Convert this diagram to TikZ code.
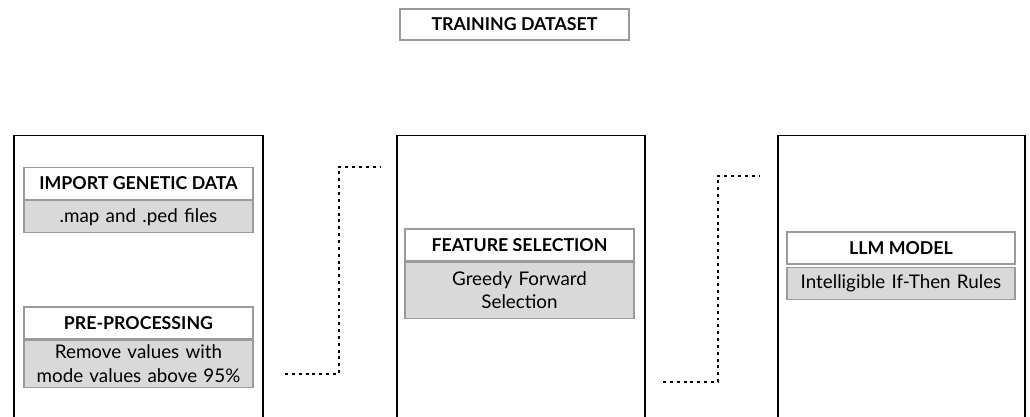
\documentclass[tikz,border=0pt]{standalone}
\usepackage{fontspec}
\setmainfont{Lato}
\usepackage{xcolor}
\usetikzlibrary{positioning}

\definecolor{boxgray}{HTML}{D9D9D9}
\definecolor{edgegray}{HTML}{9A9A9A}

\tikzset{
  stage/.style={draw=black, line width=1.1pt, anchor=north west, minimum height=6cm, inner sep=0pt},
  head/.style={draw=edgegray, line width=0.6pt, fill=white, minimum width=4.58cm, minimum height=0.65cm,
    inner sep=0pt, font=\fontsize{10.1}{12}\selectfont\bfseries},
  body/.style={draw=edgegray, line width=0.6pt, fill=boxgray, minimum width=4.58cm, text width=4.5cm,
    align=center, inner sep=0pt, font=\fontsize{10.7}{13.2}\selectfont},
  flow/.style={line width=1.7pt, dash pattern=on 1.7pt off 2.2pt}
}

\begin{document}
\begin{tikzpicture}
	\clip (0,0) rectangle (20.6,-8.34);
	\useasboundingbox (0,0) rectangle (20.6,-8.34);

	% dataset label on top
	\node[head, minimum height=0.62cm] (data) at (10.29,-0.49) {TRAINING DATASET};

	% the three stages
	\node[stage, minimum width=4.98cm] (load) at (0.26,-2.69) {};
	\node[stage, minimum width=4.96cm] (select) at (7.92,-2.69) {};
	\node[stage, minimum width=4.94cm] (model) at (15.54,-2.69) {};

	% stage one
	\node[head] (import) at (2.77,-3.67) {IMPORT GENETIC DATA};
	\node[body, minimum height=0.64cm, below=0pt of import] (files) {.map and .ped files};
	\node[head, minimum height=0.64cm] (prep) at (2.77,-6.46) {PRE-PROCESSING};
	\node[body, minimum height=0.94cm, below=0pt of prep] (mode) {Remove values with\\mode values above 95\%};

	% stage two
	\node[head, minimum height=0.64cm] (feat) at (10.39,-4.90) {FEATURE SELECTION};
	\node[body, minimum height=1.12cm, below=0pt of feat] (greedy) {Greedy Forward\\Selection};

	% stage three
	\node[head, minimum height=0.64cm, minimum width=4.56cm] (llm) at (18.02,-4.96) {LLM MODEL};
	\node[body, minimum height=0.64cm, minimum width=4.56cm, below=0.04cm of llm] (rules) {Intelligible If-Then Rules};

	% dotted links between the stages
	\coordinate (a1) at (5.70,-7.48);
	\coordinate (a2) at (7.62,-3.34);
	\coordinate (b1) at (13.26,-7.64);
	\coordinate (b2) at (15.20,-3.52);
	\draw[flow] (a1) -- (6.78,-7.48) |- (a2);
	\draw[flow] (b1) -- (14.36,-7.64) |- (b2);
\end{tikzpicture}
\end{document}
